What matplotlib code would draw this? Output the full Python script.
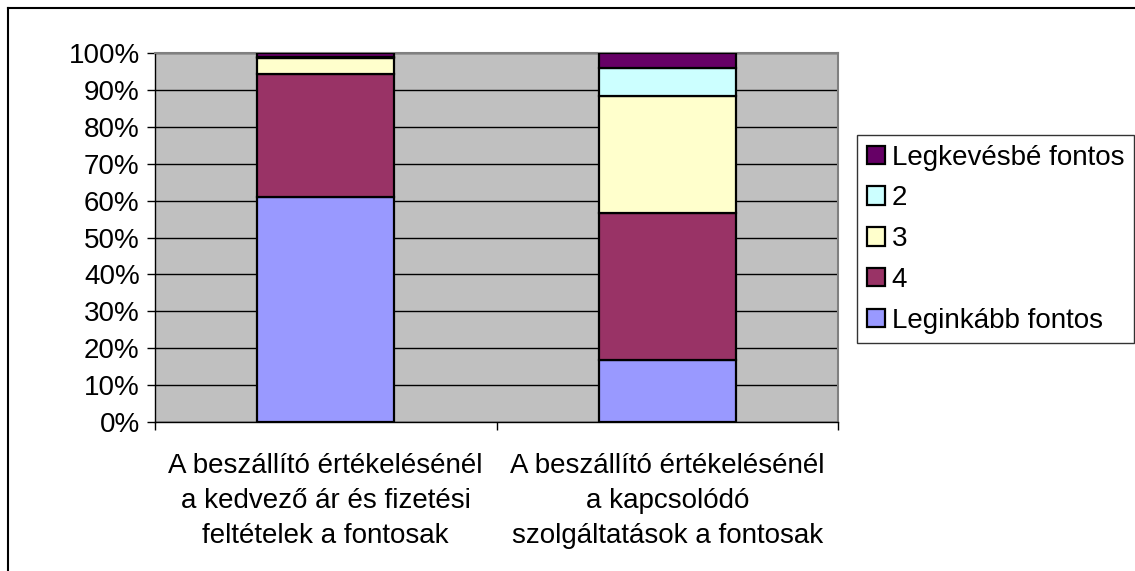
import matplotlib
matplotlib.use("Agg")
import matplotlib.pyplot as plt
import numpy as np
from matplotlib.lines import Line2D
from matplotlib.ticker import PercentFormatter

plt.rcParams['font.family'] = ['Liberation Sans', 'DejaVu Sans']

categories = ["A beszállító értékelésénél\na kedvező ár és fizetési\nfeltételek a fontosak",
              "A beszállító értékelésénél\na kapcsolódó\nszolgáltatások a fontosak"]
series_names = ["Leginkább fontos", "4", "3", "2", "Legkevésbé fontos"]
leginkabb = [61.0, 16.8]
negy = [33.3, 39.8]
harom = [4.4, 31.7]
ketto = [0.3, 7.6]
legkevesbe = [1.0, 4.1]
colors = ["#9999FF", "#993366", "#FFFFCC", "#CCFFFF", "#660066"]
yticks = [0, 10, 20, 30, 40, 50, 60, 70, 80, 90, 100]

series = [leginkabb, negy, harom, ketto, legkevesbe]
FS = 20

fig = plt.figure(figsize=(11.35, 5.71), dpi=100)
ax = fig.add_axes([155/1135, 1-422/571, (838-155)/1135, (422-53)/571])
ax.set_facecolor("#C0C0C0")

x = np.arange(len(categories))
bottom = np.zeros(len(categories))
handles = []
for name, vals, c in zip(series_names, series, colors):
    b = ax.bar(x, vals, bottom=bottom, width=0.4, color=c, edgecolor="black",
               linewidth=1.6, label=name, zorder=3)
    handles.append(b)
    bottom += np.array(vals)

ax.set_xlim(-0.5, 1.5)
ax.set_ylim(0, 100)
ax.set_yticks(yticks)
ax.yaxis.set_major_formatter(PercentFormatter(decimals=0))
ax.grid(axis='y', color='black', linewidth=1, zorder=1)
ax.set_axisbelow(True)

ax.set_xticks([-0.5, 0.5, 1.5])
ax.set_xticklabels([])
ax.set_xticks(x, minor=True)
ax.set_xticklabels(categories, minor=True, fontsize=FS, linespacing=1.45)
ax.tick_params(axis='x', which='minor', length=0, pad=22)
ax.tick_params(axis='x', which='major', direction='out', length=6, width=1, color='black')
ax.tick_params(axis='y', direction='out', length=6, width=1, labelsize=FS, pad=5)

for s in ['top', 'right']:
    ax.spines[s].set_color('#808080')
    ax.spines[s].set_linewidth(1.5)
for s in ['left', 'bottom']:
    ax.spines[s].set_color('black')
    ax.spines[s].set_linewidth(1)

leg = ax.legend(handles[::-1], series_names[::-1], loc='upper left',
                bbox_to_anchor=(857/1135, 1-135/571), bbox_transform=fig.transFigure,
                fontsize=FS, frameon=True, fancybox=False, edgecolor='black',
                handlelength=0.65, handleheight=0.65, handletextpad=0.25,
                labelspacing=0.53, borderpad=0.35, borderaxespad=0)
leg.get_frame().set_linewidth(1)

# figure border
fig.add_artist(Line2D([8/1135, 8/1135], [0, 1-8/571], transform=fig.transFigure, color='black', linewidth=1.5))
fig.add_artist(Line2D([8/1135, 1], [1-8/571, 1-8/571], transform=fig.transFigure, color='black', linewidth=1.5))

fig.savefig("out.png", dpi=100)
